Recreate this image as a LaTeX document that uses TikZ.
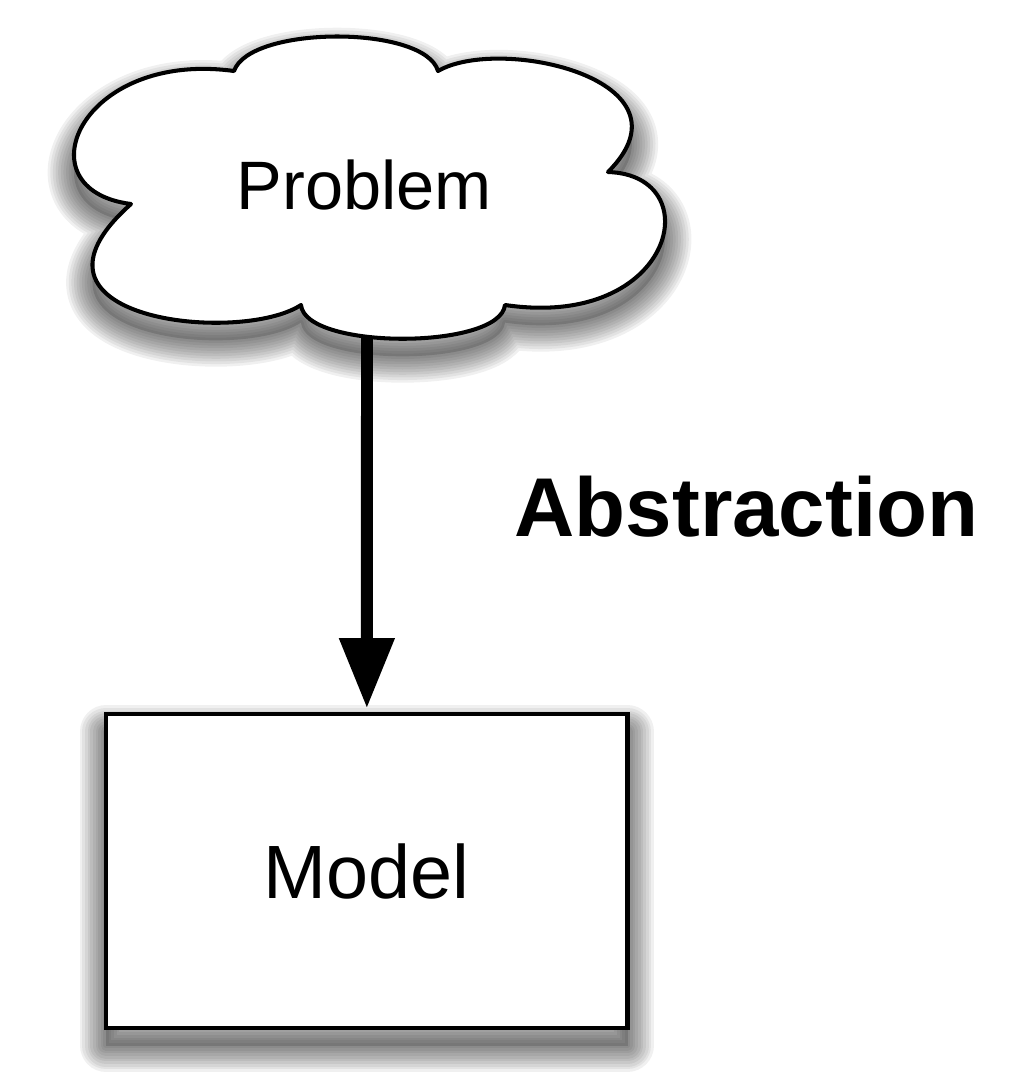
\documentclass[tikz,border=0pt]{standalone}
\usepackage{fontspec}
\setmainfont{Liberation Sans}
\usetikzlibrary{arrows.meta, positioning}

\begin{document}
\begin{tikzpicture}[x=0.02cm, y=-0.02cm,
        shadowlayer/.style={preaction={draw=black, opacity=0.06, line width=#1, line join=round, transform canvas={yshift=-10pt}}},
        shadowfill/.style={preaction={fill=black, opacity=0.15, transform canvas={yshift=-10pt}}},
        softshadow/.style={shadowfill, shadowlayer=30pt, shadowlayer=27pt, shadowlayer=24pt, shadowlayer=21pt, shadowlayer=18pt,
                           shadowlayer=15pt, shadowlayer=12pt, shadowlayer=9pt, shadowlayer=6pt, shadowlayer=3pt},
        cloudline/.style={draw=black, fill=white, line width=2.3pt, line join=round},
        box/.style={draw=black, fill=white, line width=2.5pt, minimum width=10.43cm, minimum height=6.28cm, font=\fontsize{43}{50}\selectfont},
        label/.style={anchor=base, inner sep=0pt},
        arr/.style={-{Triangle[width=30pt, length=40pt]}, line width=6.8pt, shorten >=2pt}
      ]
        \useasboundingbox (0,0) rectangle (1009,1089);

        \draw[cloudline, softshadow] (234,71) .. controls (250,25) and (425,25) .. (438,71)
          .. controls (500,35) and (700,80) .. (608,172)
          .. controls (710,175) and (675,330) .. (505,305)
          .. controls (500,350) and (305,350) .. (301,305)
          .. controls (240,345) and (0,320) .. (131,204)
          .. controls (20,190) and (80,50) .. (234,71) -- cycle;
        \node[label, font=\fontsize{39}{45}\selectfont] (problem) at (364.5,209) {Problem};
        \coordinate (cloudbot) at (367,337);

        \node[box, softshadow] (model) at (366.8,871) {Model};

        \node[label, font=\bfseries\fontsize{47.5}{55}\selectfont] (abstraction) at (746.5,536) {Abstraction};

        \draw[arr] (cloudbot) -- (model);
      \end{tikzpicture}
\end{document}
